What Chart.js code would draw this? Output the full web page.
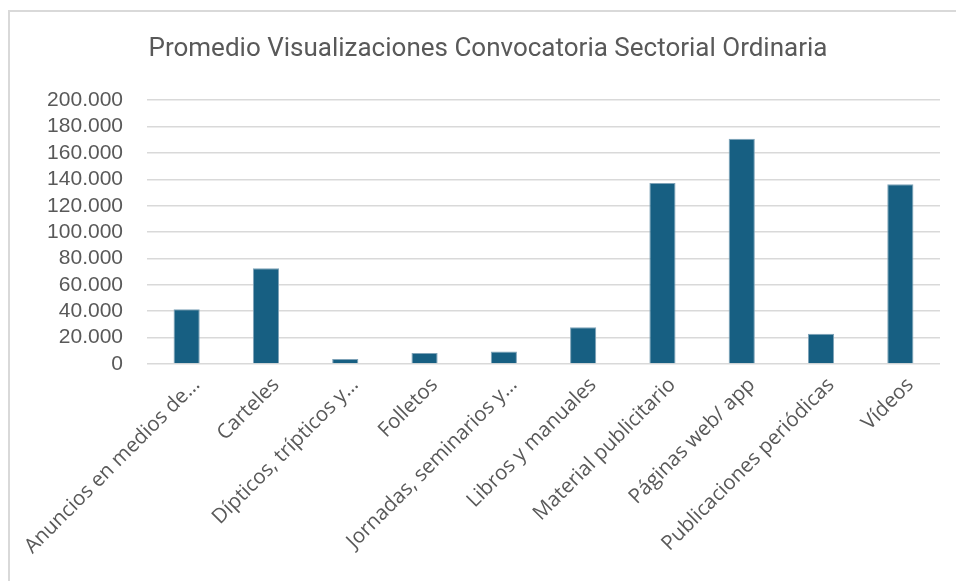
<!DOCTYPE html>
<html>
<head>
<meta charset="utf-8">
<script src="https://cdn.jsdelivr.net/npm/chart.js@4.4.1/dist/chart.umd.min.js"></script>
<style>
  html, body { margin: 0; padding: 0; background: #fff; overflow: hidden; }
  #wrap { position: absolute; left: 0; top: 0; width: 956px; height: 581px; }
  #frame { position: absolute; left: 8px; top: 10px; width: 1000px; height: 600px;
           border: 2px solid #d9d9d9; pointer-events: none; }
</style>
</head>
<body>
<div id="wrap"><canvas id="bar-chart"></canvas></div>
<div id="frame"></div>
<script>
// Bar chart
// ------------------------------
var categories = ["Anuncios en medios de…", "Carteles", "Dípticos, trípticos y…", "Folletos", "Jornadas, seminarios y…", "Libros y manuales", "Material publicitario", "Páginas web/ app", "Publicaciones periódicas", "Vídeos"];
var promedio = [41500, 72500, 3800, 8300, 9500, 27900, 137200, 170700, 22900, 136200];
var yTicks = [0, 20000, 40000, 60000, 80000, 100000, 120000, 140000, 160000, 180000, 200000];

function miles(v) {
    return String(v).replace(/\B(?=(\d{3})+(?!\d))/g, ".");
}

var ctx = document.getElementById("bar-chart");

var chartOptions = {
    responsive: true,
    maintainAspectRatio: false,
    animation: false,
    layout: { padding: { left: 36, right: 16, top: 0, bottom: 0 } },
    plugins: {
        legend: { display: false },
        tooltip: { enabled: false },
        title: {
            display: true,
            text: "Promedio Visualizaciones Convocatoria Sectorial Ordinaria",
            color: "#595959",
            font: { family: "'Liberation Sans Narrow', 'Roboto', sans-serif", size: 26, weight: "normal" },
            padding: { top: 34, bottom: 35 }
        }
    },
    scales: {
        x: {
            grid: { display: false },
            border: { display: false },
            ticks: {
                color: "#595959",
                font: { family: "'Open Sans', sans-serif", size: 20.5 },
                minRotation: 45,
                maxRotation: 45,
                autoSkip: false,
                labelOffset: 10,
                padding: 1
            },
            afterFit: function (scale) {
                scale.height = 581 - 364;
                scale.paddingLeft = 0;
                scale.paddingRight = 0;
            }
        },
        y: {
            min: 0,
            max: 200000,
            afterBuildTicks: function (scale) {
                scale.ticks = yTicks.map(function (v) { return { value: v }; });
            },
            grid: { color: "#d9d9d9", lineWidth: 1.5, drawTicks: false },
            border: { display: false },
            ticks: {
                color: "#595959",
                font: { family: "'Liberation Sans', Arial, sans-serif", size: 21 },
                padding: 24,
                autoSkip: false,
                callback: function (v) { return miles(v); }
            },
            afterFit: function (scale) {
                scale.width = 111;
            }
        }
    }
};

var chartData = {
    labels: categories,
    datasets: [{
        label: "Promedio",
        data: promedio,
        backgroundColor: "#175f82",
        borderColor: "#7fa3b8",
        borderWidth: 1,
        barPercentage: 0.33,
        categoryPercentage: 1
    }]
};

var config = {
    type: "bar",
    options: chartOptions,
    data: chartData
};

var barChart = new Chart(ctx, config);
</script>
</body>
</html>
